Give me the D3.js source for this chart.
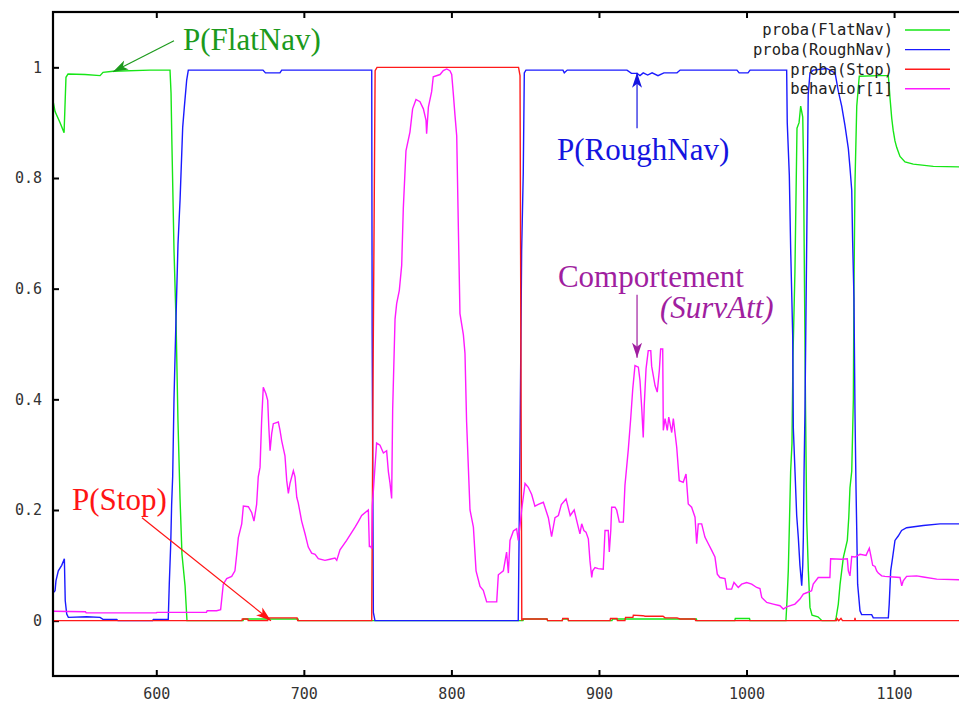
<!DOCTYPE html>
<html>
<head>
<meta charset="utf-8">
<script src="https://cdn.jsdelivr.net/npm/d3@7"></script>
<style>
  body { margin: 0; background: #fff; overflow: hidden; }
  svg { display: block; }
  .axis .tick text { font-family: "DejaVu Sans Mono", monospace; font-size: 15px; fill: #333; }
  .axis .tick line { stroke: #000; stroke-width: 2; }
  .axis .domain { display: none; }
</style>
</head>
<body>
<script>
// ticks
const xTicks = [600, 700, 800, 900, 1000, 1100];
const yTicks = [0, 0.2, 0.4, 0.6, 0.8, 1];

// series: [time step, value]
const seriesNames = ["proba(FlatNav)", "proba(RoughNav)", "proba(Stop)", "behavior[1]"];
const seriesColors = ["#16e616", "#1a1aff", "#ff1a1a", "#ff1aff"];

const flatNav = [
  [530, 0.94], [531.4, 0.92], [534.8, 0.9], [537.5, 0.882], [538.1, 0.928], [538.8, 0.982],
  [540.2, 0.988], [551.7, 0.987], [561.9, 0.985], [563.9, 0.991], [570.7, 0.993], [595.7, 0.995],
  [609.3, 0.995], [610.0, 0.953], [610.6, 0.86], [612.0, 0.67], [613.4, 0.54], [614.7, 0.36],
  [616.1, 0.22], [617.4, 0.12], [619.5, 0.063], [620.8, 0], [658.8, 0], [659.2, 0.003],
  [696, 0.003], [696.4, 0], [848.5, 0], [849, 0.003], [864.8, 0.003], [865.2, 0], [875, 0],
  [875.4, 0.003], [879, 0.003], [879.4, 0], [908.8, 0], [909.2, 0.003], [966, 0.003], [966.4, 0],
  [992, 0], [992.4, 0.004], [1002, 0.004], [1002.4, 0], [1026.7, 0], [1027.5, 0.04], [1028.3, 0.09],
  [1029.2, 0.19], [1029.9, 0.27], [1030.8, 0.32], [1031.5, 0.48], [1032.8, 0.63], [1034.2, 0.89],
  [1035.6, 0.9], [1036.7, 0.93], [1038.1, 0.91], [1038.6, 0.83], [1039.3, 0.6], [1040.0, 0.38],
  [1040.8, 0.18], [1041.9, 0.09], [1043.0, 0.024], [1044.4, 0.01], [1048.4, 0.007], [1051.1, 0],
  [1060.0, 0], [1060.7, 0.005], [1062.2, 0.03], [1063.4, 0.066], [1065.6, 0.114], [1068.3, 0.145],
  [1069.3, 0.187], [1070.1, 0.24], [1071.3, 0.27], [1072.4, 0.4], [1072.8, 0.6], [1073.5, 0.79],
  [1074.7, 0.93], [1076.4, 0.984], [1090.4, 0.985], [1096.1, 0.985], [1097.2, 0.946], [1098.4, 0.908],
  [1099.4, 0.886], [1100.6, 0.867], [1101.8, 0.855], [1104.0, 0.839], [1107.4, 0.829], [1113.0, 0.825],
  [1126.6, 0.821], [1144.7, 0.82], [1165, 0.82]
];

const roughNav = [
  [530, 0.05], [531.4, 0.054], [532.0, 0.072], [533.6, 0.09], [535.9, 0.1], [537.7, 0.112],
  [538.3, 0.036], [539.3, 0.012], [540.4, 0.006], [552.8, 0.007], [561.9, 0.006], [564.1, 0.002],
  [573.2, 0.002], [574, 0], [597.5, 0], [598.0, 0.002], [608.1, 0.002], [608.8, 0.066], [609.8, 0.14],
  [610.4, 0.21], [611.1, 0.26], [612.0, 0.4], [613.4, 0.55], [614.7, 0.68], [616.1, 0.76],
  [617.9, 0.892], [619.0, 0.928], [620.6, 0.977], [621.7, 0.995], [672.3, 0.995], [674, 0.99],
  [683.8, 0.99], [685, 0.995], [746.0, 0.995], [746.3, 0.517], [747.1, 0.015], [748.2, 0],
  [845.3, 0], [846.5, 0.32], [847.6, 0.67], [848.7, 0.81], [849.4, 0.99], [850.5, 0.995],
  [875.6, 0.995], [876.5, 0.99], [878.5, 0.995], [919.0, 0.995], [922, 0.989], [925.8, 0.989],
  [927.8, 0.985], [930, 0.99], [933, 0.986], [936, 0.99], [940, 0.985], [944, 0.99], [952.9, 0.99],
  [955, 0.995], [993.5, 0.995], [995, 0.99], [1001, 0.99], [1002.4, 0.995], [1027.2, 0.995],
  [1027.6, 0.9], [1029.0, 0.805], [1029.9, 0.673], [1031.3, 0.515], [1031.7, 0.349], [1032.8, 0.273],
  [1034.0, 0.19], [1035.1, 0.15], [1036.2, 0.1], [1037.4, 0.063], [1038.1, 0.1], [1038.5, 0.15],
  [1039.0, 0.27], [1039.6, 0.377], [1040.8, 0.687], [1041.8, 0.95], [1043.0, 0.99], [1045.2, 0.995],
  [1054.3, 0.998], [1060.0, 0.99], [1062.2, 0.957], [1064.5, 0.93], [1066.7, 0.895], [1069.0, 0.853],
  [1070.1, 0.819], [1071.3, 0.778], [1071.9, 0.687], [1072.8, 0.584], [1073.5, 0.377], [1074.2, 0.239],
  [1074.7, 0.163], [1075.3, 0.066], [1076.9, 0.018], [1078.0, 0.011], [1084.8, 0.011], [1085.9, 0.005],
  [1096.1, 0.005], [1096.7, 0.03], [1097.7, 0.09], [1099.0, 0.114], [1100.6, 0.145], [1102.8, 0.153],
  [1105.1, 0.163], [1108.5, 0.168], [1119.8, 0.172], [1131.1, 0.175], [1165, 0.175]
];

const stop = [
  [530, 0], [658, 0], [658.3, 0.003], [662, 0.003], [662.3, 0], [675.5, 0], [676, 0.005],
  [695.4, 0.005], [695.8, 0], [746.0, 0], [747.0, 0.48], [748.3, 0.994], [749.6, 1.0], [845.5, 1.0],
  [846.5, 0.985], [847.7, 0], [848.0, 0.003], [864.8, 0.003], [865.2, 0], [875.2, 0], [875.5, 0.004],
  [879, 0.004], [879.3, 0], [907.5, 0], [907.8, 0.004], [912.2, 0.004], [912.5, 0], [917.6, 0],
  [918, 0.006], [923, 0.006], [923.3, 0.01], [929.8, 0.009], [931.2, 0.008], [943.4, 0.008],
  [944.8, 0.005], [952.9, 0.005], [955, 0.003], [965.1, 0.003], [965.5, 0], [1061, 0],
  [1061.3, 0.004], [1062.5, 0], [1064, 0.004], [1065, 0], [1073.3, 0], [1073.5, 0.005],
  [1073.8, 0], [1165, 0]
];

const behavior = [
  [530, 0.017], [552, 0.016], [552.5, 0.014], [600, 0.014], [600.5, 0.015], [634, 0.015],
  [634.5, 0.018], [640.9, 0.018], [643.6, 0.02], [645.4, 0.066], [647.7, 0.076], [651.1, 0.08],
  [653.3, 0.09], [654.5, 0.12], [655.6, 0.15], [657.9, 0.175], [659.0, 0.207], [662.4, 0.206],
  [664.7, 0.195], [666.2, 0.18], [668.0, 0.21], [669.1, 0.26], [670.3, 0.277], [671.4, 0.362],
  [672.5, 0.422], [674.3, 0.41], [675.5, 0.398], [676.2, 0.353], [677.1, 0.307], [678.2, 0.338],
  [679.3, 0.356], [682.7, 0.359], [683.8, 0.345], [685.0, 0.325], [687.2, 0.298], [688.4, 0.253],
  [689.5, 0.23], [690.6, 0.248], [692.9, 0.271], [694.0, 0.26], [695.2, 0.223], [696.2, 0.213],
  [698.5, 0.18], [700.8, 0.157], [703.0, 0.133], [705.3, 0.122], [707.6, 0.12], [709.8, 0.112],
  [714.3, 0.109], [717.7, 0.111], [721.1, 0.113], [722.3, 0.109], [724.5, 0.128], [729.0, 0.145],
  [734.7, 0.169], [736.9, 0.179], [739.2, 0.19], [743.7, 0.2], [744.4, 0.134], [745.3, 0.134],
  [746.0, 0.13], [746.4, 0.207], [747.8, 0.262], [749.3, 0.321], [751.6, 0.317], [753.9, 0.303],
  [756.1, 0.307], [757.3, 0.269], [758.4, 0.248], [759.5, 0.221], [760.2, 0.383], [761.8, 0.545],
  [762.9, 0.573], [764.7, 0.597], [766.3, 0.642], [767.4, 0.745], [769.2, 0.849], [771.9, 0.883],
  [773.7, 0.925], [776.0, 0.942], [778.7, 0.938], [781.0, 0.925], [782.8, 0.904], [783.2, 0.88],
  [784.4, 0.928], [786.6, 0.956], [787.7, 0.983], [792.3, 0.987], [794.5, 0.994], [796.8, 0.997],
  [799.0, 0.994], [800.2, 0.987], [801.3, 0.952], [802.4, 0.914], [803.6, 0.876], [804.7, 0.711],
  [805.8, 0.555], [808.1, 0.517], [809.2, 0.483], [810.3, 0.359], [812.6, 0.2], [814.9, 0.169],
  [816.7, 0.09], [819.4, 0.062], [821.6, 0.055], [823.9, 0.034], [830.7, 0.034], [831.8, 0.083],
  [835.2, 0.09], [837.4, 0.124], [838.6, 0.086], [839.7, 0.145], [842.0, 0.162], [844.2, 0.166],
  [845.3, 0.145], [846.5, 0.172], [847.6, 0.2], [849.9, 0.248], [852.1, 0.241], [854.4, 0.228],
  [856.6, 0.207], [858.9, 0.21], [862.3, 0.214], [865.7, 0.186], [867.9, 0.152], [870.2, 0.186],
  [872.5, 0.19], [874.5, 0.21], [877.7, 0.22], [880.5, 0.19], [883.2, 0.2], [885.9, 0.17],
  [887.1, 0.157], [888.3, 0.175], [889.8, 0.163], [891.2, 0.16], [892.8, 0.148], [893.9, 0.108],
  [895.1, 0.078], [895.7, 0.09], [897.3, 0.096], [899.5, 0.094], [902.9, 0.093], [904.1, 0.163],
  [906.3, 0.163], [907.0, 0.124], [908.0, 0.163], [908.6, 0.205], [910.9, 0.205], [912.0, 0.2],
  [913.8, 0.178], [916.5, 0.178], [917.6, 0.244], [919.9, 0.31], [921.5, 0.365], [922.9, 0.419],
  [924.4, 0.461], [926.7, 0.458], [927.8, 0.434], [929.0, 0.383], [930.0, 0.331], [930.7, 0.39],
  [931.9, 0.455], [933.4, 0.488], [935.1, 0.488], [935.7, 0.46], [938.0, 0.425], [939.5, 0.413],
  [940.9, 0.452], [941.8, 0.491], [943.2, 0.491], [943.6, 0.344], [944.8, 0.365], [946.3, 0.344],
  [947.3, 0.368], [949.3, 0.34], [950.4, 0.365], [952.7, 0.313], [954.4, 0.253], [957.1, 0.25],
  [959.0, 0.265], [960.5, 0.211], [962.8, 0.205], [965.1, 0.187], [966.2, 0.139], [967.3, 0.175],
  [969.6, 0.175], [971.8, 0.151], [974.1, 0.139], [976.4, 0.127], [978.6, 0.115], [980.2, 0.084],
  [982.0, 0.078], [985.4, 0.076], [986.6, 0.057], [989.9, 0.057], [991.5, 0.069], [994.4, 0.06],
  [996.7, 0.066], [1000.1, 0.069], [1003.5, 0.066], [1006.9, 0.06], [1009.1, 0.058], [1010.3, 0.042],
  [1013.7, 0.033], [1018.1, 0.03], [1022.7, 0.027], [1024.9, 0.021], [1027.2, 0.025], [1032.8, 0.03],
  [1036.2, 0.039], [1038.5, 0.048], [1040.3, 0.05], [1044.1, 0.054], [1045.2, 0.066], [1048.6, 0.078],
  [1056.5, 0.078], [1057.0, 0.112], [1064.5, 0.111], [1068.3, 0.112], [1069.0, 0.09], [1070.1, 0.081],
  [1071.3, 0.116], [1073.5, 0.115], [1076.9, 0.12], [1081.0, 0.118], [1083.2, 0.131], [1084.2, 0.118],
  [1085.5, 0.1], [1087.1, 0.098], [1088.2, 0.09], [1089.3, 0.086], [1091.6, 0.081], [1093.8, 0.08],
  [1099.5, 0.079], [1104.0, 0.078], [1105.2, 0.063], [1106.2, 0.072], [1108.5, 0.08], [1115.3, 0.081],
  [1119.8, 0.079], [1128.9, 0.075], [1144.0, 0.074], [1165, 0.074]
];

// hand-drawn labels, in data units
const annotations = [
  { text: "P(FlatNav)", at: [618.1, 1.031], color: "#1c9a1c", from: [612.0, 1.048], to: [570.7, 0.992] },
  { text: "P(RoughNav)", at: [871.6, 0.833], color: "#1414e0", from: [925.8, 0.89], to: [925.8, 0.99] },
  { text: "Comportement", at: [872.2, 0.603], color: "#a01ea0", from: [925.8, 0.589], to: [925.8, 0.475] },
  { text: "(SurvAtt)", at: [941.4, 0.547], color: "#a01ea0", italic: true },
  { text: "P(Stop)", at: [542.9, 0.2], color: "#ff1414", from: [590.3, 0.186], to: [677.7, 0.0] }
];

const W = 959, H = 707;
const margin = { top: 12, left: 53 },
  width = 937,
  height = 664;

const svg = d3
  .select("body")
  .append("svg")
  .attr("width", W)
  .attr("height", H);

svg.append("rect").attr("width", W).attr("height", H).attr("fill", "#fff");

const g = svg.append("g").attr("transform", `translate(${margin.left},${margin.top})`);

const x = d3.scaleLinear().domain([530, 1165]).range([0, width]);
const y = d3.scaleLinear().domain([-0.1, 1.1]).range([height, 0]);

g.append("clipPath").attr("id", "plot-clip")
  .append("rect").attr("width", width).attr("height", height);

// axes with inward ticks
g.append("g").attr("class", "axis")
  .attr("transform", `translate(0,${height})`)
  .call(d3.axisBottom(x).tickValues(xTicks).tickSizeInner(-6).tickSizeOuter(0).tickPadding(12).tickFormat(d3.format("d")));

g.append("g").attr("class", "axis")
  .call(d3.axisTop(x).tickValues(xTicks).tickSizeInner(-6).tickSizeOuter(0).tickFormat(""));

g.append("g").attr("class", "axis")
  .call(d3.axisLeft(y).tickValues(yTicks).tickSizeInner(-6).tickSizeOuter(0).tickPadding(11).tickFormat((d) => String(d)));

const line = d3.line().x((d) => x(d[0])).y((d) => y(d[1]));

const allSeries = [flatNav, roughNav, stop, behavior];

g.append("g")
  .attr("clip-path", "url(#plot-clip)")
  .selectAll("path")
  .data(allSeries)
  .join("path")
  .attr("d", line)
  .attr("fill", "none")
  .attr("stroke", (d, i) => seriesColors[i])
  .attr("stroke-width", 1.4)
  .attr("stroke-linejoin", "miter");

// frame
g.append("rect")
  .attr("width", width)
  .attr("height", height)
  .attr("fill", "none")
  .attr("stroke", "#000")
  .attr("stroke-width", 2.2);

// legend
const legend = svg.append("g")
  .selectAll("g")
  .data(seriesNames)
  .join("g")
  .attr("transform", (d, i) => `translate(0,${30 + i * 19.6})`);

legend.append("text")
  .attr("x", 893)
  .attr("dy", "0.35em")
  .attr("text-anchor", "end")
  .attr("font-family", "DejaVu Sans Mono, monospace")
  .attr("font-size", 15.5)
  .attr("fill", "#222")
  .text((d) => d);

legend.append("line")
  .attr("x1", 905)
  .attr("x2", 950)
  .attr("stroke", (d, i) => seriesColors[i])
  .attr("stroke-width", 1.4);

// annotations
const defs = svg.append("defs");
annotations.filter((a) => a.from).forEach((a, i) => {
  defs.append("marker")
    .attr("id", `head${i}`)
    .attr("markerUnits", "userSpaceOnUse")
    .attr("viewBox", "-16 -6 18 12")
    .attr("refX", 0)
    .attr("refY", 0)
    .attr("markerWidth", 18)
    .attr("markerHeight", 12)
    .attr("orient", "auto")
    .append("path")
    .attr("d", "M0,0 L-15,-5 L-11,0 L-15,5 Z")
    .attr("fill", a.color);
  a.marker = `head${i}`;
});

const notes = g.append("g");

notes.selectAll("line")
  .data(annotations.filter((a) => a.from))
  .join("line")
  .attr("x1", (a) => x(a.from[0]))
  .attr("y1", (a) => y(a.from[1]))
  .attr("x2", (a) => x(a.to[0]))
  .attr("y2", (a) => y(a.to[1]))
  .attr("stroke", (a) => a.color)
  .attr("stroke-width", 1.2)
  .attr("marker-end", (a) => `url(#${a.marker})`);

notes.selectAll("text")
  .data(annotations)
  .join("text")
  .attr("x", (a) => x(a.at[0]))
  .attr("y", (a) => y(a.at[1]))
  .attr("font-family", "Liberation Serif, serif")
  .attr("font-size", 31)
  .attr("font-style", (a) => (a.italic ? "italic" : "normal"))
  .attr("fill", (a) => a.color)
  .text((a) => a.text);
</script>
</body>
</html>
